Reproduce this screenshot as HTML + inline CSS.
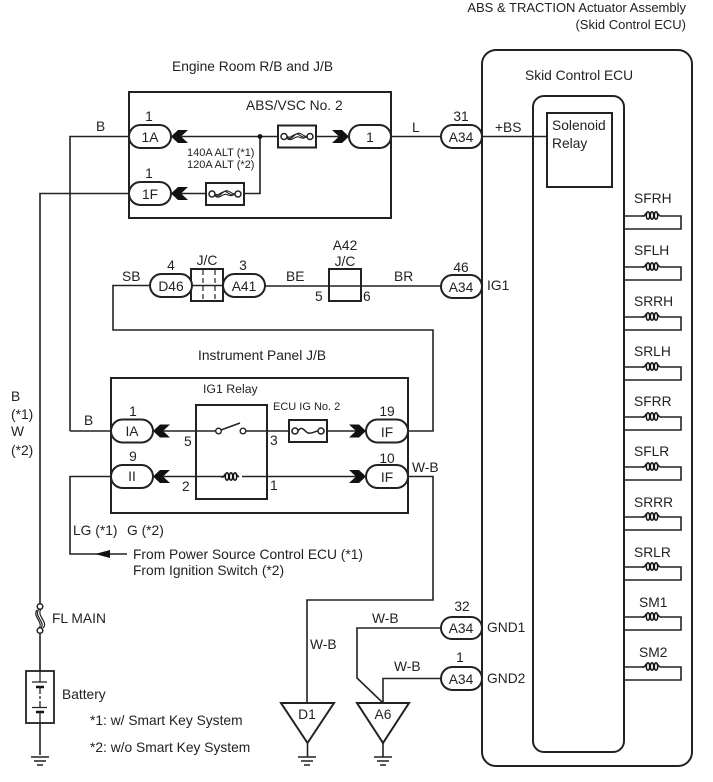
<!DOCTYPE html>
<html><head><meta charset="utf-8"><style>
html,body{margin:0;padding:0;background:#fff}
svg{display:block}
text{font-family:"Liberation Sans",sans-serif;font-size:13.8px;fill:#222}
.h{font-size:13px}
.r{font-size:12.3px}
.s{font-size:11px}
.l{fill:none;stroke:#222;stroke-width:1.6}
.c{fill:#fff;stroke:#222;stroke-width:2}
.b{fill:#fff;stroke:#222;stroke-width:2}
</style></head><body>
<svg width="713" height="782" viewBox="0 0 713 782" xmlns="http://www.w3.org/2000/svg">
<defs>
<g id="coil"><path d="M-9 1H-7C-6 0 -5.500 -1 -4.500 -2" fill="none" stroke="#222" stroke-width="1.600"/><path d="M6 -2C7 -1 7.500 0 9 1" fill="none" stroke="#222" stroke-width="1.600"/><ellipse cx="-3" cy="0.500" rx="1.700" ry="3.800" fill="none" stroke="#111" stroke-width="1.500"/><ellipse cx="1" cy="0.500" rx="1.700" ry="3.800" fill="none" stroke="#111" stroke-width="1.500"/><ellipse cx="5" cy="0.500" rx="1.700" ry="3.800" fill="none" stroke="#111" stroke-width="1.500"/></g>
<g id="arrowL"><path d="M0 0L7 -6.500H17L10 0L17 6.500H7Z" fill="#111"/></g>
<g id="arrowR"><path d="M17 0L10 -6.500H0L7 0L0 6.500H10Z" fill="#111"/></g>
<g id="gnd"><path d="M-9 0H9M-6 4H6M-3 8H3" stroke="#222" stroke-width="1.600" fill="none"/></g>
<g id="fuse"><rect x="0" y="0" width="38" height="22" class="b"/><circle cx="6" cy="11" r="3" fill="#fff" stroke="#222" stroke-width="1.500"/><circle cx="32" cy="11" r="3" fill="#fff" stroke="#222" stroke-width="1.500"/><path d="M9 12C14 16 17 6 22 8C25 9 26 11 29 11M9 11C14 14 17 5 22 10C25 12 26 12 29 11M9 13C14 17 17 9 22 12C25 13 26 13 29 11" fill="none" stroke="#222" stroke-width="1.100"/></g>
</defs>

<text x="686" y="12" text-anchor="end" class="h">ABS &amp; TRACTION Actuator Assembly</text>
<text x="686" y="29" text-anchor="end" class="h">(Skid Control ECU)</text>
<text x="172" y="71">Engine Room R/B and J/B</text>

<rect x="482" y="50" width="210" height="716" rx="14" fill="#fff" stroke="#222" stroke-width="2"/>
<text x="525" y="80">Skid Control ECU</text>
<rect x="533" y="96" width="91" height="656" rx="11" fill="#fff" stroke="#222" stroke-width="2"/>
<rect x="547" y="113" width="65" height="74" class="b"/>
<text x="552" y="130">Solenoid</text>
<text x="552" y="148">Relay</text>

<rect x="129" y="92" width="262" height="126" class="b"/>
<text x="246" y="110">ABS/VSC No. 2</text>
<path class="l" d="M70 431V136.500H129M40 606V193.500H129M171 136.500H349M391 136.500H441M482 136.500H547M171 193.500H260V136.500"/>
<circle cx="260" cy="136.500" r="2.400" fill="#111"/>
<use href="#arrowL" x="171" y="136.500"/>
<use href="#arrowL" x="171" y="193.500"/>
<use href="#arrowR" x="332" y="136.500"/>
<use href="#fuse" x="278" y="125.500"/>
<use href="#fuse" x="206" y="183"/>
<rect x="129" y="125" width="42" height="23" rx="11.500" class="c"/>
<rect x="129" y="182" width="42" height="23" rx="11.500" class="c"/>
<rect x="349" y="125" width="42" height="23" rx="11.500" class="c"/>
<rect x="441" y="125" width="41" height="23" rx="11.500" class="c"/>
<text x="150" y="142" text-anchor="middle">1A</text>
<text x="150" y="199" text-anchor="middle">1F</text>
<text x="370" y="142" text-anchor="middle">1</text>
<text x="461" y="142" text-anchor="middle">A34</text>
<text x="149" y="121" text-anchor="middle">1</text>
<text x="149" y="178" text-anchor="middle">1</text>
<text x="461" y="121" text-anchor="middle">31</text>
<text x="96" y="131">B</text>
<text x="412" y="132">L</text>
<text x="495" y="132">+BS</text>
<text x="187" y="156" class="s">140A ALT (*1)</text>
<text x="187" y="168" class="s">120A ALT (*2)</text>

<path class="l" d="M441 286H265M223 286H192M150 285.500H113V330H433V431H408"/>
<rect x="191" y="269" width="32" height="32" class="b"/>
<path d="M203 270V300M215 270V300" stroke="#222" stroke-width="1.200" stroke-dasharray="5 3"/>
<path d="M191 285.500H223" class="l"/>
<rect x="329" y="269" width="32" height="32" fill="none" stroke="#222" stroke-width="2"/>
<rect x="150" y="274" width="42" height="23" rx="11.500" class="c"/>
<rect x="223" y="274" width="42" height="23" rx="11.500" class="c"/>
<rect x="441" y="275" width="41" height="23" rx="11.500" class="c"/>
<text x="171" y="291" text-anchor="middle">D46</text>
<text x="244" y="291" text-anchor="middle">A41</text>
<text x="461" y="292" text-anchor="middle">A34</text>
<text x="171" y="270" text-anchor="middle">4</text>
<text x="207" y="265" text-anchor="middle">J/C</text>
<text x="243" y="270" text-anchor="middle">3</text>
<text x="345" y="250" text-anchor="middle">A42</text>
<text x="345" y="266" text-anchor="middle">J/C</text>
<text x="461" y="272" text-anchor="middle">46</text>
<text x="122" y="281">SB</text>
<text x="286" y="281">BE</text>
<text x="394" y="281">BR</text>
<text x="315" y="301">5</text>
<text x="363" y="301">6</text>
<text x="487" y="290">IG1</text>

<text x="198" y="360">Instrument Panel J/B</text>
<rect x="111" y="378" width="297" height="135" class="b"/>
<text x="203" y="393" class="r">IG1 Relay</text>
<text x="273" y="410" class="s">ECU IG No. 2</text>
<rect x="196" y="405" width="71" height="94" class="b"/>
<path class="l" d="M70 431H111M153 431H216M246 431H289M327 431H366M153 476.500H366M408 476.500H433V600H307V703M111 476.500H70V554H127"/>
<path d="M95 554L110 550V558Z" fill="#111"/>
<circle cx="218.500" cy="431" r="2.800" fill="#fff" stroke="#222" stroke-width="1.400"/>
<circle cx="243" cy="431" r="2.800" fill="#fff" stroke="#222" stroke-width="1.400"/>
<path d="M221 430L240 423" class="l"/>
<rect x="226" y="470" width="16" height="12" fill="#fff"/>
<use href="#coil" x="230" y="476"/>
<use href="#fuse" x="289" y="420"/>
<rect x="292" y="425" width="32" height="12" fill="#fff"/>
<circle cx="295" cy="431" r="3" fill="#fff" stroke="#222" stroke-width="1.500"/>
<circle cx="321" cy="431" r="3" fill="#fff" stroke="#222" stroke-width="1.500"/>
<path d="M298 431C302 425 304 431 308 433C312 434 315 431 318 431" fill="none" stroke="#222" stroke-width="1.500"/>
<use href="#arrowL" x="153" y="431"/>
<use href="#arrowL" x="153" y="476.500"/>
<use href="#arrowR" x="349" y="431"/>
<use href="#arrowR" x="349" y="476.500"/>
<rect x="111" y="419.500" width="42" height="23" rx="11.500" class="c"/>
<rect x="111" y="465" width="42" height="23" rx="11.500" class="c"/>
<rect x="366" y="419.500" width="42" height="23" rx="11.500" class="c"/>
<rect x="366" y="465" width="42" height="23" rx="11.500" class="c"/>
<text x="132" y="436" text-anchor="middle">IA</text>
<text x="132" y="481" text-anchor="middle">II</text>
<text x="387" y="437" text-anchor="middle">IF</text>
<text x="387" y="482" text-anchor="middle">IF</text>
<text x="133" y="416" text-anchor="middle">1</text>
<text x="133" y="461" text-anchor="middle">9</text>
<text x="387" y="416" text-anchor="middle">19</text>
<text x="387" y="463" text-anchor="middle">10</text>
<text x="84" y="425">B</text>
<text x="412" y="472">W-B</text>
<text x="184" y="446">5</text>
<text x="270" y="445">3</text>
<text x="182" y="491">2</text>
<text x="270" y="490">1</text>
<text x="73" y="535">LG (*1)</text>
<text x="127" y="535">G (*2)</text>
<text x="133" y="559">From Power Source Control ECU (*1)</text>
<text x="133" y="575">From Ignition Switch (*2)</text>

<text x="11" y="401">B</text>
<text x="11" y="419">(*1)</text>
<text x="11" y="436">W</text>
<text x="11" y="455">(*2)</text>

<text x="52" y="623">FL MAIN</text>
<path class="l" d="M40 634V671M40 723V755"/>
<circle cx="40" cy="606.500" r="2.800" fill="#fff" stroke="#222" stroke-width="1.500"/>
<circle cx="40" cy="630.500" r="2.800" fill="#fff" stroke="#222" stroke-width="1.500"/>
<path d="M39 609C33 616 46 622 41 628M41 609C36 616 49 622 43 628M37 610C32 616 44 623 39 628" fill="none" stroke="#222" stroke-width="1.200"/>
<rect x="26" y="671" width="28" height="52" fill="#fff" stroke="#222" stroke-width="1.800"/>
<path d="M32 682H47M32 707.500H47" stroke="#222" stroke-width="1.300"/>
<path d="M36 687H44M36 712H44" stroke="#111" stroke-width="2.500"/>
<path d="M40 671V682M40 687V707M40 712V723" stroke="#222" stroke-width="1.300"/>
<path d="M38 695H42M38 700H42" stroke="#fff" stroke-width="2"/>
<use href="#gnd" x="40" y="757"/>
<text x="62" y="699">Battery</text>
<text x="90" y="725">*1: w/ Smart Key System</text>
<text x="90" y="752">*2: w/o Smart Key System</text>

<path d="M281 703H334L307.500 743Z" fill="#fff" stroke="#222" stroke-width="2"/>
<path d="M357 703H409L383 743Z" fill="#fff" stroke="#222" stroke-width="2"/>
<path class="l" d="M307.500 743V757M383 743V757M441 628H357V678L382 702M441 678.500H383V702"/>
<use href="#gnd" x="307" y="757"/>
<use href="#gnd" x="383" y="757"/>
<text x="307" y="719" text-anchor="middle">D1</text>
<text x="383" y="719" text-anchor="middle">A6</text>
<text x="310" y="649">W-B</text>
<text x="372" y="623">W-B</text>
<text x="394" y="671">W-B</text>
<rect x="441" y="617" width="41" height="22" rx="11" class="c"/>
<rect x="441" y="667" width="41" height="23" rx="11.500" class="c"/>
<text x="461" y="633" text-anchor="middle">A34</text>
<text x="461" y="684" text-anchor="middle">A34</text>
<text x="462" y="611" text-anchor="middle">32</text>
<text x="460" y="662" text-anchor="middle">1</text>
<text x="487" y="632">GND1</text>
<text x="487" y="683">GND2</text>

<g id="coils">
<path class="l" d="M624 216H644M660 216H681V229H624M624 267H644M660 267H681V280H624M624 317H644M660 317H681V330H624M624 367H644M660 367H681V380H624M624 417H644M660 417H681V430H624M624 467H644M660 467H681V480H624M624 517H644M660 517H681V530H624M624 567H644M660 567H681V580H624M624 617H644M660 617H681V630H624M624 667H644M660 667H681V680H624"/>
<use href="#coil" x="651" y="215"/><use href="#coil" x="651" y="266"/><use href="#coil" x="651" y="316"/><use href="#coil" x="651" y="366"/><use href="#coil" x="651" y="416"/><use href="#coil" x="651" y="466"/><use href="#coil" x="651" y="516"/><use href="#coil" x="651" y="566"/><use href="#coil" x="651" y="616"/><use href="#coil" x="651" y="666"/>
<text x="634" y="203">SFRH</text><text x="634" y="255">SFLH</text><text x="634" y="306">SRRH</text><text x="634" y="356">SRLH</text><text x="634" y="406">SFRR</text><text x="634" y="456">SFLR</text><text x="634" y="507">SRRR</text><text x="634" y="557">SRLR</text><text x="639" y="607">SM1</text><text x="639" y="657">SM2</text>
</g>
</svg>
</body></html>
